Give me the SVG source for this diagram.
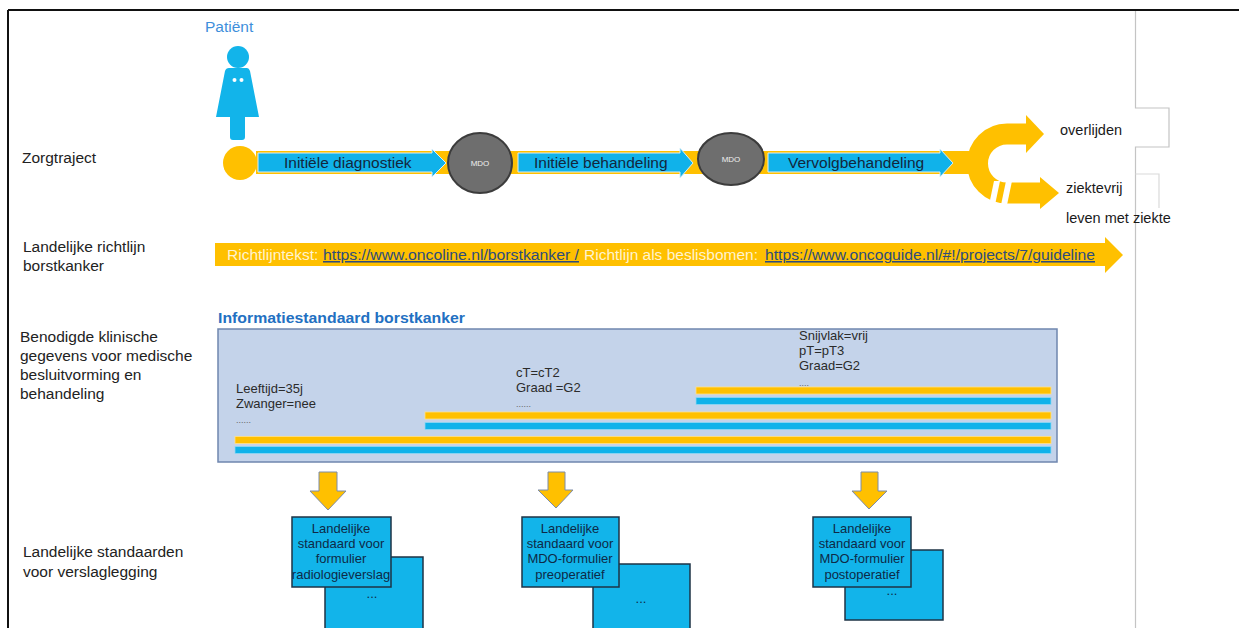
<svg xmlns="http://www.w3.org/2000/svg" width="1239" height="628" viewBox="0 0 1239 628">
<style>
text{font-family:"Liberation Sans",Arial,sans-serif;}
.lbl{font-size:15.5px;fill:#222;}
.step{font-size:15.5px;fill:#13273d;}
.mdo{font-size:8px;fill:#eeeeee;text-anchor:middle;}
.out{font-size:14.5px;fill:#1a1a1a;}
.gl{font-size:15.5px;fill:#FFF3CF;}
.lnk{font-size:15.5px;fill:#2E4C7C;text-decoration:underline;}
.dat{font-size:13px;fill:#2b2b2b;}
.dots{font-size:9px;fill:#666;}
.box{fill:#12B4EA;stroke:#1E3346;stroke-width:1.5;}
.bt{font-size:13px;fill:#0E2A47;text-anchor:middle;}
.yb{fill:#FFC000;stroke:#FFE08A;stroke-width:0.8;}
.bb{fill:#10B2EA;stroke:#8FD8F4;stroke-width:0.8;}
.blue{fill:#10B2EA;stroke:#D6EEF8;stroke-width:1;}
.mdoc{fill:#6E6E6E;stroke:#3C3C3C;stroke-width:2;}
.dn{fill:#FFC000;stroke:#7D8CA8;stroke-width:1;}
</style>

<g id="frame">
<line x1="8" y1="10" x2="1239" y2="10" stroke="#111" stroke-width="2"/>
<line x1="8" y1="10" x2="8" y2="628" stroke="#111" stroke-width="2"/>
<path d="M1135.5 11 V108 H1169 V147 H1135.5 V628" fill="none" stroke="#C4C4C4" stroke-width="1.2"/>
<path d="M1135.5 174 H1159 V208" fill="none" stroke="#DADADA" stroke-width="1.2"/>
</g>

<g id="labels">
<text class="lbl" x="22" y="163">Zorgtraject</text>
<text class="lbl" x="23" y="252">Landelijke richtlijn</text>
<text class="lbl" x="23" y="271">borstkanker</text>
<text class="lbl" x="20" y="342">Benodigde klinische</text>
<text class="lbl" x="20" y="361">gegevens voor medische</text>
<text class="lbl" x="20" y="380">besluitvorming en</text>
<text class="lbl" x="20" y="399">behandeling</text>
<text class="lbl" x="23" y="557">Landelijke standaarden</text>
<text class="lbl" x="23" y="577">voor verslaglegging</text>
</g>

<g id="connectors">
<rect x="256" y="151" width="716" height="23" fill="#FFC000"/>
<path d="M1027 134 H1007 A29.5 29.5 0 0 0 1007 193 H1042" fill="none" stroke="#FFC000" stroke-width="21"/>
<polygon points="1026,115 1044,134 1026,153" fill="#FFC000"/>
<polygon points="1040,177 1059,193 1040,209" fill="#FFC000"/>
<polygon points="994,181 1000,181 995,205 989,205" fill="#FFFFFF"/>
<polygon points="1006,181 1012,181 1007,205 1001,205" fill="#FFFFFF"/>
<polygon class="dn" points="319,472 337,472 337,491 346,491 328,510 310,491 319,491"/>
<polygon class="dn" points="548,472 565,472 565,490 573,490 556,508 538,490 548,490"/>
<polygon class="dn" points="861,472 878,472 878,491 887,491 869,509 852,491 861,491"/>
</g>

<g id="patient">
<text x="205" y="32" font-size="15.5" fill="#3E8FDB">Patiënt</text>
<circle cx="238" cy="57" r="11" fill="#12B4EA"/>
<path d="M229 68 H247 Q249 68 250 71 L259 117 H245 V137 Q245 140 242 140 H233 Q230 140 230 137 V117 H216 L225 71 Q226 68 229 68 Z" fill="#12B4EA"/>
<circle cx="234.5" cy="80" r="2" fill="#fff"/>
<circle cx="241.5" cy="80" r="2" fill="#fff"/>
<circle cx="240" cy="163" r="17" fill="#FFC000"/>
</g>

<g id="step1">
<path class="blue" d="M258 153 H432 V149 L446 163 L432 177 V172 H258 Z"/>
<text class="step" x="284" y="168">Initiële diagnostiek</text>
</g>
<g id="mdo1">
<ellipse class="mdoc" cx="480" cy="163" rx="32" ry="30"/>
<text class="mdo" x="480" y="166">MDO</text>
</g>
<g id="step2">
<path class="blue" d="M518 153 H680 V148 L693 163 L680 178 V172 H518 Z"/>
<text class="step" x="534" y="168">Initiële behandeling</text>
</g>
<g id="mdo2">
<ellipse class="mdoc" cx="731" cy="159" rx="33" ry="26"/>
<text class="mdo" x="731" y="162">MDO</text>
</g>
<g id="step3">
<path class="blue" d="M768 153 H940 V149 L953 163 L940 177 V172 H768 Z"/>
<text class="step" x="788" y="168">Vervolgbehandeling</text>
</g>

<g id="outcomes">
<text class="out" x="1060" y="135">overlijden</text>
<text class="out" x="1066" y="193">ziektevrij</text>
<text class="out" x="1066" y="223">leven met ziekte</text>
</g>

<g id="guideline">
<polygon points="215,243 1105,243 1105,237 1123,255 1105,273 1105,266 215,266" fill="#FFC000"/>
<text class="gl" x="227" y="260">Richtlijntekst:</text>
<text class="lnk" x="323" y="260" textLength="256" lengthAdjust="spacingAndGlyphs">https://www.oncoline.nl/borstkanker /</text>
<text class="gl" x="584" y="260" textLength="174" lengthAdjust="spacingAndGlyphs">Richtlijn als beslisbomen:</text>
<text class="lnk" x="765" y="260" textLength="330" lengthAdjust="spacingAndGlyphs">https://www.oncoguide.nl/#!/projects/7/guideline</text>
</g>

<g id="infostandaard">
<text x="218" y="323" font-size="15.5" font-weight="bold" fill="#2270C2" textLength="247" lengthAdjust="spacingAndGlyphs">Informatiestandaard borstkanker</text>
<rect x="218" y="329" width="839" height="133" fill="#C4D3EA" stroke="#6F86AE" stroke-width="1.5"/>
<text class="dat" x="236" y="393">Leeftijd=35j</text>
<text class="dat" x="236" y="408">Zwanger=nee</text>
<text class="dots" x="236" y="423">......</text>
<text class="dat" x="516" y="377">cT=cT2</text>
<text class="dat" x="516" y="392">Graad =G2</text>
<text class="dots" x="516" y="407">......</text>
<text class="dat" x="799" y="340">Snijvlak=vrij</text>
<text class="dat" x="799" y="355">pT=pT3</text>
<text class="dat" x="799" y="370">Graad=G2</text>
<text class="dots" x="799" y="386">....</text>
<rect class="yb" x="696" y="387" width="355" height="7"/>
<rect class="bb" x="696" y="397.5" width="355" height="7"/>
<rect class="yb" x="425" y="412" width="626" height="7"/>
<rect class="bb" x="425" y="422.5" width="626" height="7"/>
<rect class="yb" x="235" y="436.5" width="816" height="7"/>
<rect class="bb" x="235" y="446.5" width="816" height="7"/>
</g>

<g id="report1">
<rect class="box" x="325" y="557" width="98" height="75"/>
<text class="bt" x="372" y="598" font-size="9">...</text>
<rect class="box" x="292" y="517" width="99" height="70"/>
<text class="bt" x="341" y="533">Landelijke</text>
<text class="bt" x="341" y="548">standaard voor</text>
<text class="bt" x="341" y="563">formulier</text>
<text class="bt" x="341" y="579">radiologieverslag</text>
</g>

<g id="report2">
<rect class="box" x="593" y="564" width="97" height="68"/>
<text class="bt" x="641" y="603" font-size="9">...</text>
<rect class="box" x="522" y="517" width="97" height="70"/>
<text class="bt" x="570" y="533">Landelijke</text>
<text class="bt" x="570" y="548">standaard voor</text>
<text class="bt" x="570" y="563">MDO-formulier</text>
<text class="bt" x="570" y="579">preoperatief</text>
</g>

<g id="report3">
<rect class="box" x="845" y="550" width="98" height="70"/>
<text class="bt" x="892" y="595" font-size="9">...</text>
<rect class="box" x="813" y="517" width="98" height="70"/>
<text class="bt" x="862" y="533">Landelijke</text>
<text class="bt" x="862" y="548">standaard voor</text>
<text class="bt" x="862" y="563">MDO-formulier</text>
<text class="bt" x="862" y="579">postoperatief</text>
</g>
</svg>
